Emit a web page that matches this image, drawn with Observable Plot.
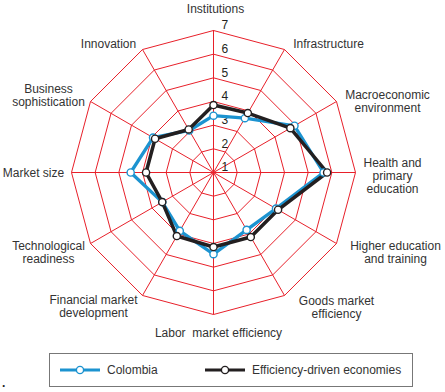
<!DOCTYPE html>
<html>
<head>
<meta charset="utf-8">
<script src="https://cdn.jsdelivr.net/npm/d3@7"></script>
<script src="https://cdn.jsdelivr.net/npm/@observablehq/plot@0.6"></script>
<style>
  html, body { margin: 0; padding: 0; background: #fff; }
  #wrap { position: relative; width: 445px; height: 392px; font-family: "Liberation Sans", Arial, sans-serif; color: #222; }
  #chart svg text { white-space: pre; }
  #legend { position: absolute; left: 49px; top: 353px; width: 364px; height: 34px; border: 1.5px solid #777; box-sizing: border-box; }
  .lg { position: absolute; top: 0; height: 31px; display: flex; align-items: center; font-size: 12px; color: #333; }
  .lg svg { margin-right: 7px; }
  #dot { position: absolute; left: 2px; top: 376px; font-size: 12px; font-weight: bold; }
</style>
</head>
<body>
<div id="wrap">
  <div id="chart"></div>
  <div id="legend"></div>
  <div id="dot">.</div>
</div>
<script>
// ---- data ----
const axes = [
  "Institutions",
  "Infrastructure",
  "Macroeconomic\nenvironment",
  "Health and\nprimary\neducation",
  "Higher education\nand training",
  "Goods market\nefficiency",
  "Labor  market efficiency",
  "Financial market\ndevelopment",
  "Technological\nreadiness",
  "Market size",
  "Business\nsophistication",
  "Innovation"
];
const colombia   = [3.40, 3.65, 4.95, 5.65, 4.05, 3.80, 4.45, 3.85, 3.50, 4.50, 3.95, 3.05];
const efficiency = [3.85, 3.90, 4.75, 5.80, 4.15, 4.15, 4.15, 4.10, 3.50, 3.85, 3.85, 3.10];
const seriesNames = ["Colombia", "Efficiency-driven economies"];
const tickValues = [1, 2, 3, 4, 5, 6, 7];

// ---- layout (pixels) ----
const W = 445, H = 345, CX = 213, CY = 172, R = 142;
const labelOffsets = [
  [2, -164], [115, -129], [174, -71], [179, 3], [182, 80], [123, 135],
  [5, 160], [-120, 134], [-165, 80], [-180, 0], [-165, -77], [-105, -129]
];
const colors = { blue: "#1c93d0", black: "#231f20", red: "#e8202a" };

const n = axes.length;
const rad = v => (v - 1) / 6;
const ang = i => (i * 2 * Math.PI) / n;
const px = (i, v) => rad(v) * Math.sin(ang(i));
const py = (i, v) => rad(v) * Math.cos(ang(i));

// grid polygons
const grid = [];
for (const L of tickValues.slice(1)) {
  for (let i = 0; i <= n; i++) grid.push({ level: L, i: i % n });
}
const spokes = axes.map((a, i) => ({ i }));

const mk = vals => vals.map((v, i) => ({ i, v }));
const colPts = mk(colombia);
const effPts = mk(efficiency);

const chart = Plot.plot({
  width: W, height: H,
  margin: 0,
  x: { type: "linear", domain: [-CX / R, (W - CX) / R], range: [0, W], axis: null },
  y: { type: "linear", domain: [-(H - CY) / R, CY / R], range: [H, 0], axis: null },
  style: { fontFamily: "Liberation Sans, Arial, sans-serif", fontSize: "12px", background: "#fff" },
  marks: [
    Plot.line(grid, { x: d => px(d.i, d.level), y: d => py(d.i, d.level), z: "level", stroke: colors.red, strokeWidth: 1 }),
    Plot.link(spokes, { x1: () => 0, y1: () => 0, x2: d => px(d.i, 7), y2: d => py(d.i, 7), stroke: colors.red, strokeWidth: 1 }),
    Plot.text(tickValues, { x: () => 0, y: v => rad(v), text: v => String(v), dx: 8, dy: -5, textAnchor: "start", fill: colors.black, fontSize: 12 }),
    Plot.line(colPts, { x: d => px(d.i, d.v), y: d => py(d.i, d.v), curve: "linear-closed", stroke: colors.blue, strokeWidth: 3.3 }),
    Plot.line(effPts, { x: d => px(d.i, d.v), y: d => py(d.i, d.v), curve: "linear-closed", stroke: colors.black, strokeWidth: 3.5 }),
    Plot.dot(colPts, { x: d => px(d.i, d.v), y: d => py(d.i, d.v), r: 3.6, fill: "#fff", stroke: colors.blue, strokeWidth: 1.4 }),
    Plot.dot(effPts, { x: d => px(d.i, d.v), y: d => py(d.i, d.v), r: 3.6, fill: "#fff", stroke: colors.black, strokeWidth: 1.4 }),
    Plot.text(axes.map((a, i) => ({ a, i })), {
      x: d => labelOffsets[d.i][0] / R,
      y: d => -labelOffsets[d.i][1] / R,
      text: "a", textAnchor: "middle", lineAnchor: "middle", lineHeight: 1.08,
      fill: "#333", fontSize: 12
    })
  ]
});
document.getElementById("chart").appendChild(chart);

// legend
const legend = document.getElementById("legend");
const items = [
  { name: seriesNames[0], color: colors.blue, left: 10 },
  { name: seriesNames[1], color: colors.black, left: 155 }
];
for (const it of items) {
  const div = document.createElement("div");
  div.className = "lg";
  div.style.left = it.left + "px";
  div.innerHTML = `<svg width="40" height="12"><line x1="0" y1="6" x2="40" y2="6" stroke="${it.color}" stroke-width="3"/><circle cx="20" cy="6" r="3.6" fill="#fff" stroke="${it.color}" stroke-width="1.4"/></svg><span>${it.name}</span>`;
  legend.appendChild(div);
}
</script>
</body>
</html>
